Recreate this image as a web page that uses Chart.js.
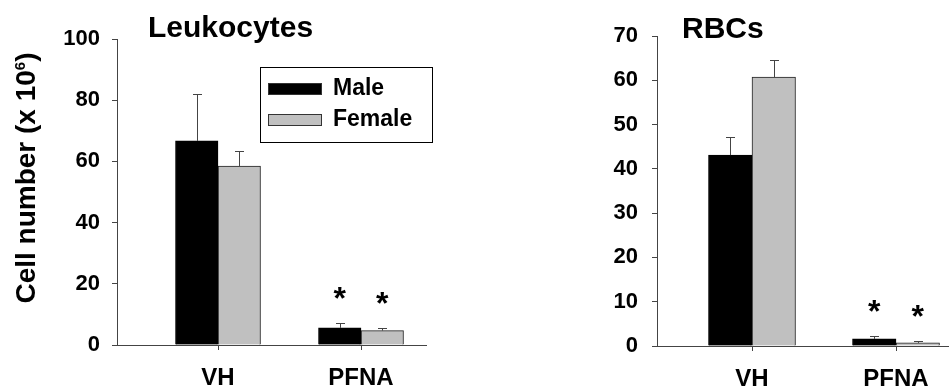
<!DOCTYPE html>
<html>
<head>
<meta charset="utf-8">
<script src="https://cdn.jsdelivr.net/npm/chart.js@4"></script>
<style>
  body { margin: 0; background: #fff; width: 949px; height: 387px; overflow: hidden; position: relative; }
  canvas { position: absolute; top: 0; }
</style>
</head>
<body>
<canvas id="leuko" width="475" height="387" style="left:0px"></canvas>
<canvas id="rbc" width="474" height="387" style="left:475px"></canvas>
<script>
// groups on the x axis
const groups = ['VH', 'PFNA'];
const groupPos = [1, 2];

// Leukocytes (x 10^6)
const leukoMale = [66.7, 5.6];
const leukoMaleErr = [15.3, 1.5];
const leukoFemale = [58.5, 4.7];
const leukoFemaleErr = [4.9, 0.8];

// RBCs
const rbcMale = [43.1, 1.6];
const rbcMaleErr = [4.1, 0.7];
const rbcFemale = [60.7, 0.7];
const rbcFemaleErr = [3.9, 0.4];

// significance marks
const maleStars = ['', '*'];
const femaleStars = ['', '*'];

const leukoTicks = [0, 20, 40, 60, 80, 100];
const rbcTicks = [0, 10, 20, 30, 40, 50, 60, 70];

const FONT = "'Liberation Sans', Arial, sans-serif";
const AXIS = '#444';

function toPoints(vals) {
  return vals.map((v, i) => ({ x: groupPos[i], y: v }));
}

// error bars, asterisks, title, legend box and y title
const extras = {
  id: 'extras',
  afterDatasetsDraw(chart, args, opts) {
    const ctx = chart.ctx;
    const y = chart.scales.y;
    ctx.save();
    chart.data.datasets.forEach((ds, i) => {
      const meta = chart.getDatasetMeta(i);
      meta.data.forEach((bar, j) => {
        const top = y.getPixelForValue(ds.data[j].y + ds.errors[j]);
        const x = Math.round(bar.x) + 0.5;
        ctx.strokeStyle = AXIS;
        ctx.lineWidth = 1;
        ctx.beginPath();
        ctx.moveTo(x, bar.y);
        ctx.lineTo(x, Math.round(top) + 0.5);
        ctx.moveTo(x - 4.5, Math.round(top) + 0.5);
        ctx.lineTo(x + 4.5, Math.round(top) + 0.5);
        ctx.stroke();
        if (ds.stars[j]) {
          ctx.fillStyle = '#000';
          ctx.font = 'bold 32px ' + FONT;
          ctx.textAlign = 'center';
          ctx.textBaseline = 'alphabetic';
          ctx.fillText(ds.stars[j], bar.x, top - 14);
        }
      });
    });
    ctx.restore();
  },
  afterDraw(chart, args, opts) {
    const ctx = chart.ctx;
    ctx.save();
    ctx.fillStyle = '#000';
    ctx.textBaseline = 'alphabetic';
    if (opts.title) {
      ctx.font = 'bold ' + opts.title.size + 'px ' + FONT;
      ctx.textAlign = 'left';
      ctx.fillText(opts.title.text, opts.title.x, opts.title.y);
    }
    if (opts.legend) {
      const L = opts.legend;
      ctx.strokeStyle = '#000';
      ctx.lineWidth = 1;
      ctx.strokeRect(L.x + 0.5, L.y + 0.5, L.w, L.h);
      ctx.font = 'bold 23px ' + FONT;
      ctx.textAlign = 'left';
      chart.data.datasets.forEach((ds, i) => {
        const sy = L.y + 16 + i * 31;
        ctx.fillStyle = ds.backgroundColor;
        ctx.fillRect(L.x + 8, sy, 54, 12);
        ctx.strokeStyle = '#333';
        ctx.strokeRect(L.x + 8.5, sy + 0.5, 53, 11);
        ctx.fillStyle = '#000';
        ctx.fillText(ds.label, L.x + 73, sy + 12);
      });
    }
    if (opts.yTitle) {
      const T = opts.yTitle;
      const big = 'bold 28px ' + FONT;
      const small = 'bold 15px ' + FONT;
      ctx.translate(T.x, T.y);
      ctx.rotate(-Math.PI / 2);
      ctx.font = big;
      const w1 = ctx.measureText(T.main).width;
      const w3 = ctx.measureText(T.end).width;
      ctx.font = small;
      const w2 = ctx.measureText(T.sup).width;
      let x = -(w1 + w2 + w3) / 2;
      ctx.font = big;
      ctx.fillText(T.main, x, 0);
      x += w1;
      ctx.font = small;
      ctx.fillText(T.sup, x, -10);
      x += w2;
      ctx.font = big;
      ctx.fillText(T.end, x, 0);
    }
    ctx.restore();
  }
};

function makeChart(id, male, maleErr, female, femaleErr, cfg) {
  return new Chart(document.getElementById(id), {
    type: 'bar',
    data: {
      datasets: [
        {
          label: 'Male',
          data: toPoints(male),
          errors: maleErr,
          stars: maleStars,
          backgroundColor: '#000000',
          borderColor: '#000000',
          borderWidth: 1,
          barThickness: cfg.barW
        },
        {
          label: 'Female',
          data: toPoints(female),
          errors: femaleErr,
          stars: femaleStars,
          backgroundColor: '#c0c0c0',
          borderColor: '#222222',
          borderWidth: 1,
          barThickness: cfg.barW
        }
      ]
    },
    options: {
      responsive: false,
      animation: false,
      layout: { padding: { left: 0, top: cfg.top, right: cfg.right, bottom: 0 } },
      scales: {
        x: {
          type: 'linear',
          offset: false,
          min: cfg.xMin,
          max: cfg.xMax,
          afterBuildTicks: (s) => { s.ticks = groupPos.map(v => ({ value: v })); },
          afterFit: (s) => { s.height = cfg.xH; },
          grid: { offset: false, drawOnChartArea: false, tickLength: 5, color: AXIS },
          border: { display: true, color: AXIS, width: 1 },
          ticks: {
            padding: 14,
            maxRotation: 0,
            color: '#000',
            font: { family: FONT, size: 24, weight: 'bold' },
            callback: (v) => groups[groupPos.indexOf(v)] || ''
          }
        },
        y: {
          min: 0,
          max: cfg.yMax,
          afterBuildTicks: (s) => { s.ticks = cfg.yTicks.map(v => ({ value: v })); },
          afterFit: (s) => { s.width = cfg.yW; },
          grid: { drawOnChartArea: false, tickLength: 5, color: AXIS },
          border: { display: true, color: AXIS, width: 1 },
          ticks: {
            padding: cfg.yPad,
            color: '#000',
            font: { family: FONT, size: 22, weight: 'bold' }
          }
        }
      },
      plugins: {
        legend: { display: false },
        tooltip: { enabled: false },
        extras: cfg.extras
      }
    },
    plugins: [extras]
  });
}

makeChart('leuko', leukoMale, leukoMaleErr, leukoFemale, leukoFemaleErr, {
  barW: 42.5, top: 39, right: 49, xH: 42, yW: 117, yPad: 12,
  xMin: 0.2937, xMax: 2.4545, yMax: 100, yTicks: leukoTicks,
  extras: {
    title: { text: 'Leukocytes', x: 148, y: 37, size: 30 },
    legend: { x: 260, y: 67, w: 172, h: 75 },
    yTitle: { x: 35, y: 178, main: 'Cell number (x 10', sup: '6', end: ')' }
  }
});

makeChart('rbc', rbcMale, rbcMaleErr, rbcFemale, rbcFemaleErr, {
  barW: 43.5, top: 36, right: 0, xH: 41, yW: 182, yPad: 14,
  xMin: 0.3403, xMax: 2.368, yMax: 70, yTicks: rbcTicks,
  extras: {
    title: { text: 'RBCs', x: 207, y: 38, size: 30 }
  }
});
</script>
</body>
</html>
